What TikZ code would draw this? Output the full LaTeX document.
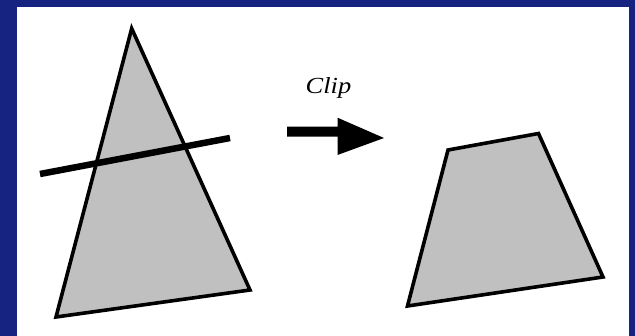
\documentclass[tikz,border=0pt]{standalone}
\usepackage{fontspec}
\setmainfont{Liberation Serif}
\definecolor{bgblue}{RGB}{23,35,128}
\definecolor{shade}{RGB}{192,192,192}
\tikzset{
  poly/.style={fill=shade, draw=black, line width=3.6pt, line join=miter},
  cutline/.style={draw=black, line width=6.5pt},
  bigarrow/.style={fill=black, draw=none}
}
\begin{document}
\begin{tikzpicture}[x=1pt,y=-1pt]
\fill[bgblue] (0,0) rectangle (635,336);
\fill[white] (17,7) rectangle (629,336);
\useasboundingbox (0,0) rectangle (635,336);
% triangle
\coordinate (ta) at (131.7,28.5);
\coordinate (tl) at (56,317);
\coordinate (tr) at (250,290);
\draw[poly] (ta) -- (tr) -- (tl) -- cycle;
% clip line
\coordinate (la) at (40,174);
\coordinate (lb) at (230,138);
\draw[cutline] (la) -- (lb);
% arrow
\coordinate (s1) at (287,126.7);
\coordinate (s2) at (337.5,126.7);
\coordinate (h1) at (337.5,117.7);
\coordinate (tip) at (384,138);
\coordinate (h2) at (337.5,155);
\coordinate (s3) at (337.5,136.7);
\coordinate (s4) at (287,136.7);
\fill[bigarrow] (s1) -- (s2) -- (h1) -- (tip) -- (h2) -- (s3) -- (s4) -- cycle;
\node[font=\fontsize{23}{26}\selectfont\itshape, anchor=base, xscale=1.15] (clip) at (328.5,93.3) {Clip};
% clipped quad
\coordinate (q1) at (448,150);
\coordinate (q2) at (538.5,133.5);
\coordinate (q3) at (603,277);
\coordinate (q4) at (407.5,306);
\draw[poly] (q1) -- (q2) -- (q3) -- (q4) -- cycle;
\end{tikzpicture}
\end{document}
